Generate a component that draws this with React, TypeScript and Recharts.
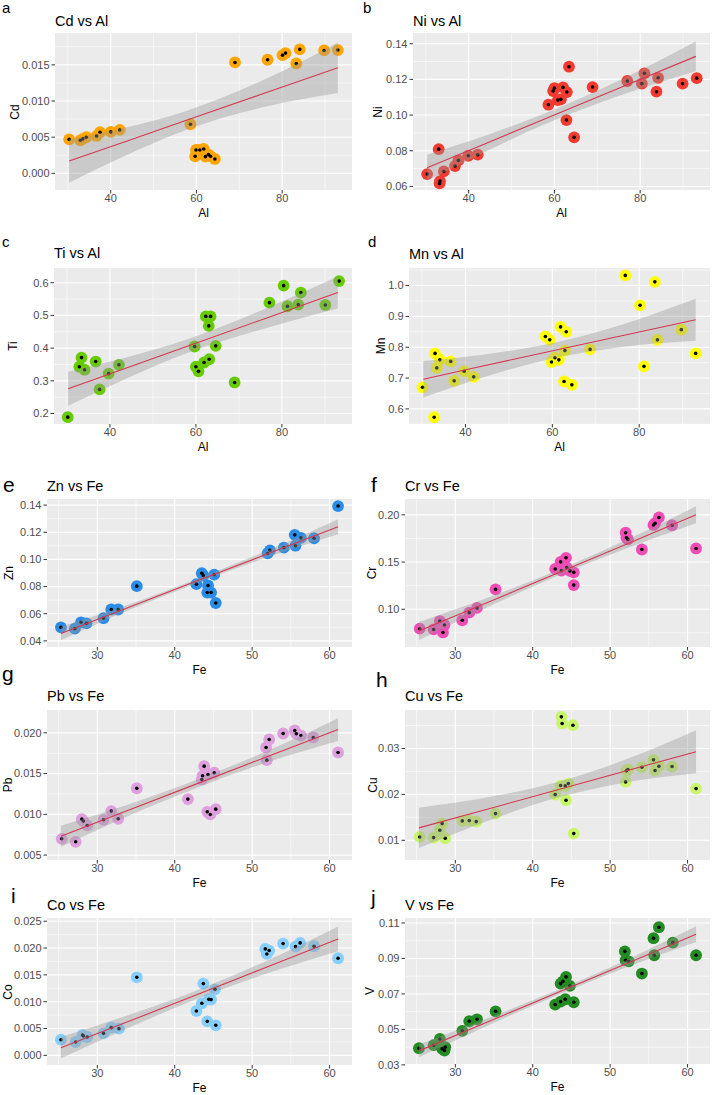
import React from "react";
import { ComposedChart, Scatter, Area, Line, XAxis, YAxis, CartesianGrid } from "recharts";

// --- Shared axis data ---

const AL_TICKS = [40, 60, 80];
const AL_MINOR = [30, 50, 70, 90];
const AL_DOMAIN = [27.0, 96.3];
const AL_BAND_X = [30.3, 44, 58, 76, 93];

const FE_TICKS = [30, 40, 50, 60];
const FE_MINOR = [25, 35, 45, 55];
const FE_DOMAIN = [23.5, 62.9];
const FE_BAND_X = [25.3, 34, 43, 52, 61.1];

// --- a: Cd vs Al ---
const cdAl = [30.3, 32.9, 33.5, 34.3, 36.7, 37.5, 40.0, 42.1, 58.6, 59.7, 59.9, 60.8, 61.7, 62.1, 62.8, 63.3, 64.3, 69.0, 76.6, 80.1, 80.8, 83.3, 84.1, 89.8, 93.0];
const cdVal = [0.0047, 0.00457, 0.00476, 0.00499, 0.00517, 0.00568, 0.00573, 0.006, 0.00679, 0.00235, 0.00323, 0.00323, 0.00337, 0.00231, 0.00259, 0.00235, 0.00199, 0.01533, 0.0157, 0.01634, 0.01662, 0.01519, 0.01713, 0.01699, 0.01704];
const cdFit = [0.0017, 0.0045, 0.0074, 0.0111, 0.0146];
const cdLo = [-0.0013, 0.0026, 0.0061, 0.0092, 0.0111];
const cdHi = [0.0047, 0.0064, 0.0087, 0.013, 0.0181];
const cdTicks = [0, 0.005, 0.01, 0.015];
const cdMinor = [0.0025, 0.0075, 0.0125, 0.0175];

// --- b: Ni vs Al ---
const niAl = [30.3, 33.0, 33.3, 33.2, 34.2, 36.8, 37.6, 39.9, 42.1, 58.6, 59.7, 60.0, 60.8, 61.5, 62.0, 62.9, 63.4, 62.8, 64.6, 68.9, 77.0, 80.4, 81.0, 83.8, 84.2, 89.9, 93.2];
const niVal = [0.0669, 0.0809, 0.063, 0.0617, 0.0684, 0.0714, 0.0746, 0.0772, 0.0778, 0.1058, 0.1135, 0.1151, 0.1084, 0.1088, 0.1155, 0.1129, 0.1271, 0.0972, 0.0875, 0.1157, 0.1191, 0.1176, 0.1234, 0.1131, 0.1209, 0.1176, 0.1207];
const niFit = [0.0705, 0.0841, 0.0981, 0.116, 0.1329];
const niLo = [0.0632, 0.0796, 0.0951, 0.1115, 0.1245];
const niHi = [0.0778, 0.0886, 0.1011, 0.1205, 0.1413];
const niTicks = [0.06, 0.08, 0.1, 0.12, 0.14];
const niMinor = [0.07, 0.09, 0.11, 0.13];

// --- c: Ti vs Al ---
const tiAl = [30.2, 32.9, 33.4, 34.1, 36.7, 37.6, 39.7, 42.1, 59.7, 60.0, 60.6, 61.9, 62.3, 63.4, 63.0, 63.1, 64.6, 69.0, 77.1, 80.4, 81.3, 83.8, 84.4, 90.1, 93.3];
const tiVal = [0.189, 0.343, 0.371, 0.334, 0.359, 0.274, 0.322, 0.349, 0.405, 0.343, 0.329, 0.356, 0.497, 0.497, 0.468, 0.366, 0.407, 0.295, 0.539, 0.591, 0.528, 0.533, 0.57, 0.532, 0.605];
const tiFit = [0.276, 0.34, 0.406, 0.49, 0.57];
const tiLo = [0.224, 0.308, 0.385, 0.46, 0.521];
const tiHi = [0.328, 0.372, 0.427, 0.52, 0.619];
const tiTicks = [0.2, 0.3, 0.4, 0.5, 0.6];
const tiMinor = [0.25, 0.35, 0.45, 0.55];

// --- d: Mn vs Al ---
const mnAl = [30.1, 32.8, 33.0, 33.4, 34.1, 36.6, 37.4, 39.7, 41.9, 58.4, 59.4, 59.8, 60.6, 61.5, 61.9, 62.7, 62.9, 63.2, 64.5, 68.7, 76.8, 80.2, 81.1, 83.6, 84.2, 89.7, 93.0];
const mnVal = [0.67, 0.573, 0.78, 0.733, 0.759, 0.754, 0.691, 0.722, 0.704, 0.835, 0.824, 0.752, 0.766, 0.759, 0.866, 0.689, 0.789, 0.85, 0.678, 0.793, 1.033, 0.936, 0.738, 1.012, 0.824, 0.857, 0.78];
const mnFit = [0.696, 0.739, 0.782, 0.837, 0.889];
const mnLo = [0.637, 0.702, 0.757, 0.801, 0.821];
const mnHi = [0.755, 0.776, 0.807, 0.873, 0.957];
const mnTicks = [0.6, 0.7, 0.8, 0.9, 1.0];
const mnMinor = [0.55, 0.65, 0.75, 0.85, 0.95, 1.05];

// --- e: Zn vs Fe ---
const znFe = [25.3, 27.1, 27.9, 28.6, 30.8, 31.8, 32.7, 35.1, 42.8, 43.5, 43.7, 44.3, 44.2, 44.7, 45.1, 45.3, 52.0, 52.3, 54.1, 55.5, 55.6, 56.3, 58.0, 61.1];
const znVal = [0.05, 0.049, 0.0537, 0.0529, 0.0567, 0.0631, 0.0631, 0.0803, 0.0818, 0.0898, 0.088, 0.0808, 0.0756, 0.0756, 0.0888, 0.0679, 0.1044, 0.1067, 0.1087, 0.1181, 0.1101, 0.1159, 0.1156, 0.1393];
const znFit = [0.0455, 0.0646, 0.0844, 0.1041, 0.1241];
const znLo = [0.0405, 0.0626, 0.0829, 0.1016, 0.1186];
const znHi = [0.0505, 0.0666, 0.0859, 0.1066, 0.1296];
const znTicks = [0.04, 0.06, 0.08, 0.1, 0.12, 0.14];
const znMinor = [0.05, 0.07, 0.09, 0.11, 0.13];

// --- f: Cr vs Fe ---
const crFe = [25.4, 27.2, 28.0, 28.4, 28.6, 30.9, 31.8, 32.8, 35.2, 42.9, 43.6, 43.7, 44.3, 44.4, 44.8, 45.3, 45.3, 52.0, 52.1, 52.3, 54.1, 55.6, 55.8, 56.3, 58.0, 61.1];
const crVal = [0.0794, 0.0786, 0.0875, 0.0754, 0.0833, 0.0883, 0.0964, 0.1014, 0.121, 0.1427, 0.1502, 0.1409, 0.1545, 0.1441, 0.1406, 0.1391, 0.1256, 0.1811, 0.1758, 0.174, 0.1633, 0.1893, 0.1911, 0.1972, 0.189, 0.1644];
const crFit = [0.077, 0.1066, 0.1376, 0.1686, 0.2];
const crLo = [0.0675, 0.1016, 0.1346, 0.1641, 0.191];
const crHi = [0.0865, 0.1116, 0.1406, 0.1731, 0.209];
const crTicks = [0.1, 0.15, 0.2];
const crMinor = [0.075, 0.125, 0.175];

// --- g: Pb vs Fe ---
const pbFe = [25.4, 27.2, 28.0, 28.2, 28.7, 30.8, 31.8, 32.7, 35.1, 41.7, 43.5, 43.6, 43.8, 44.3, 44.2, 44.6, 45.3, 45.1, 51.8, 51.9, 52.2, 54.0, 55.5, 55.7, 56.3, 57.9, 61.1];
const pbVal = [0.007, 0.00663, 0.00941, 0.00917, 0.00864, 0.00933, 0.0104, 0.00946, 0.0132, 0.01187, 0.01428, 0.01473, 0.01591, 0.01489, 0.01031, 0.00999, 0.01064, 0.0151, 0.0182, 0.01665, 0.01918, 0.01992, 0.02029, 0.01988, 0.01967, 0.01943, 0.01759];
const pbFit = [0.0073, 0.0105, 0.0138, 0.0171, 0.0204];
const pbLo = [0.006, 0.0098, 0.0133, 0.0164, 0.019];
const pbHi = [0.0086, 0.0112, 0.0143, 0.0178, 0.0218];
const pbTicks = [0.005, 0.01, 0.015, 0.02];
const pbMinor = [0.0075, 0.0125, 0.0175];

// --- h: Cu vs Fe ---
const cuFe = [25.4, 27.2, 28.0, 28.3, 28.7, 30.9, 31.8, 32.7, 35.2, 42.9, 43.6, 43.7, 43.8, 44.3, 44.2, 44.6, 45.2, 45.3, 52.0, 52.1, 52.3, 54.1, 55.6, 55.8, 56.3, 58.0, 61.1];
const cuVal = [0.01073, 0.01058, 0.01218, 0.01364, 0.01044, 0.01422, 0.01429, 0.01407, 0.01582, 0.01996, 0.02193, 0.03691, 0.03545, 0.01873, 0.02185, 0.02236, 0.03509, 0.01145, 0.02273, 0.02513, 0.02542, 0.02593, 0.02753, 0.0252, 0.02615, 0.02607, 0.02127];
const cuFit = [0.0127, 0.0167, 0.0209, 0.0251, 0.0293];
const cuLo = [0.0083, 0.0141, 0.0192, 0.0226, 0.0246];
const cuHi = [0.0171, 0.0193, 0.0226, 0.0276, 0.034];
const cuTicks = [0.01, 0.02, 0.03];
const cuMinor = [0.015, 0.025, 0.035];

// --- i: Co vs Fe ---
const coFe = [25.3, 27.2, 28.1, 28.2, 28.7, 30.8, 31.8, 32.8, 35.1, 42.8, 43.5, 43.7, 44.2, 44.4, 44.7, 45.2, 45.3, 51.7, 51.9, 52.2, 54.0, 55.6, 56.2, 58.0, 61.1];
const coVal = [0.00292, 0.00249, 0.00379, 0.0036, 0.00342, 0.0041, 0.00516, 0.00498, 0.01455, 0.00827, 0.0097, 0.01337, 0.00634, 0.01045, 0.01039, 0.01231, 0.0056, 0.01984, 0.0189, 0.01953, 0.02083, 0.02027, 0.02096, 0.02034, 0.0181];
const coFit = [0.0014, 0.0063, 0.0114, 0.0165, 0.0217];
const coLo = [-0.0006, 0.0051, 0.0106, 0.0153, 0.0194];
const coHi = [0.0034, 0.0075, 0.0122, 0.0177, 0.024];
const coTicks = [0, 0.005, 0.01, 0.015, 0.02, 0.025];
const coMinor = [0.0025, 0.0075, 0.0125, 0.0175, 0.0225];

// --- j: V vs Fe ---
const vFe = [25.3, 27.2, 28.0, 28.3, 28.6, 28.7, 30.9, 31.8, 32.8, 35.2, 42.9, 43.6, 43.6, 43.9, 44.2, 44.3, 44.8, 45.3, 51.9, 52.0, 52.4, 54.1, 55.6, 55.7, 56.3, 58.1, 61.1];
const vVal = [0.0394, 0.0411, 0.0446, 0.039, 0.0381, 0.04, 0.0492, 0.0546, 0.0557, 0.0602, 0.064, 0.0657, 0.0758, 0.0771, 0.067, 0.0796, 0.0745, 0.0653, 0.094, 0.089, 0.0884, 0.0815, 0.1014, 0.0918, 0.1076, 0.0989, 0.0918];
const vFit = [0.0379, 0.0539, 0.0704, 0.0869, 0.1037];
const vLo = [0.0343, 0.0518, 0.069, 0.0849, 0.0993];
const vHi = [0.0415, 0.056, 0.0718, 0.0889, 0.1081];
const vTicks = [0.03, 0.05, 0.07, 0.09, 0.11];
const vMinor = [0.04, 0.06, 0.08, 0.1];

// --- Style ---

const FONT = '"Liberation Sans", Arial, Helvetica, sans-serif';
const PANEL_BG = "#EBEBEB";
const TICK_TEXT = "#4D4D4D";
const FIT_COLOR = "#D4384F";

type PanelDef = {
  letter: string;
  letterSize: number;
  letterPos: [number, number];
  title: string;
  titleBase: number;
  xLabel: string;
  yLabel: string;
  yLabelX: number;
  rect: [number, number, number, number]; // plot L, T, R, B on the page
  col: number;
  xs: number[];
  ys: number[];
  fit: number[];
  lo: number[];
  hi: number[];
  bandX: number[];
  xDomain: number[];
  xTicks: number[];
  xMinor: number[];
  yDomain: number[];
  yTicks: number[];
  yMinor: number[];
  digits: number;
  color: string;
};

const PANELS: PanelDef[] = [
  { letter: "a", letterSize: 15, letterPos: [2, 12.7], title: "Cd vs Al", titleBase: 26.7, xLabel: "Al", yLabel: "Cd", yLabelX: 15,
    rect: [55, 33, 352, 190], col: 0, xs: cdAl, ys: cdVal, fit: cdFit, lo: cdLo, hi: cdHi, bandX: AL_BAND_X,
    xDomain: AL_DOMAIN, xTicks: AL_TICKS, xMinor: AL_MINOR, yDomain: [-0.0023, 0.0194], yTicks: cdTicks, yMinor: cdMinor, digits: 3, color: "#FFA500" },
  { letter: "b", letterSize: 15, letterPos: [363, 12.7], title: "Ni vs Al", titleBase: 26.7, xLabel: "Al", yLabel: "Ni", yLabelX: 377.5,
    rect: [413, 33, 710, 190], col: 356, xs: niAl, ys: niVal, fit: niFit, lo: niLo, hi: niHi, bandX: AL_BAND_X,
    xDomain: AL_DOMAIN, xTicks: AL_TICKS, xMinor: AL_MINOR, yDomain: [0.058, 0.146], yTicks: niTicks, yMinor: niMinor, digits: 2, color: "#F23B30" },
  { letter: "c", letterSize: 15, letterPos: [2, 246.7], title: "Ti vs Al", titleBase: 258.3, xLabel: "Al", yLabel: "Ti", yLabelX: 13,
    rect: [54, 268, 352, 424], col: 0, xs: tiAl, ys: tiVal, fit: tiFit, lo: tiLo, hi: tiHi, bandX: AL_BAND_X,
    xDomain: AL_DOMAIN, xTicks: AL_TICKS, xMinor: AL_MINOR, yDomain: [0.168, 0.645], yTicks: tiTicks, yMinor: tiMinor, digits: 1, color: "#66CC00" },
  { letter: "d", letterSize: 15, letterPos: [368, 246.7], title: "Mn vs Al", titleBase: 259.5, xLabel: "Al", yLabel: "Mn", yLabelX: 381,
    rect: [409, 268, 710, 424], col: 356, xs: mnAl, ys: mnVal, fit: mnFit, lo: mnLo, hi: mnHi, bandX: AL_BAND_X,
    xDomain: AL_DOMAIN, xTicks: AL_TICKS, xMinor: AL_MINOR, yDomain: [0.551, 1.057], yTicks: mnTicks, yMinor: mnMinor, digits: 1, color: "#FFFF00" },
  { letter: "e", letterSize: 21, letterPos: [3, 491.7], title: "Zn vs Fe", titleBase: 491.7, xLabel: "Fe", yLabel: "Zn", yLabelX: 9,
    rect: [47, 499, 352, 647], col: 0, xs: znFe, ys: znVal, fit: znFit, lo: znLo, hi: znHi, bandX: FE_BAND_X,
    xDomain: FE_DOMAIN, xTicks: FE_TICKS, xMinor: FE_MINOR, yDomain: [0.0355, 0.1445], yTicks: znTicks, yMinor: znMinor, digits: 2, color: "#2B8CE6" },
  { letter: "f", letterSize: 21, letterPos: [371, 491.7], title: "Cr vs Fe", titleBase: 491, xLabel: "Fe", yLabel: "Cr", yLabelX: 371.5,
    rect: [405, 499, 710, 647], col: 356, xs: crFe, ys: crVal, fit: crFit, lo: crLo, hi: crHi, bandX: FE_BAND_X,
    xDomain: FE_DOMAIN, xTicks: FE_TICKS, xMinor: FE_MINOR, yDomain: [0.06, 0.2168], yTicks: crTicks, yMinor: crMinor, digits: 2, color: "#EE4DB5" },
  { letter: "g", letterSize: 21, letterPos: [2, 681], title: "Pb vs Fe", titleBase: 701.7, xLabel: "Fe", yLabel: "Pb", yLabelX: 7.5,
    rect: [47, 710, 352, 860], col: 0, xs: pbFe, ys: pbVal, fit: pbFit, lo: pbLo, hi: pbHi, bandX: FE_BAND_X,
    xDomain: FE_DOMAIN, xTicks: FE_TICKS, xMinor: FE_MINOR, yDomain: [0.0044, 0.0228], yTicks: pbTicks, yMinor: pbMinor, digits: 3, color: "#DDA0DD" },
  { letter: "h", letterSize: 21, letterPos: [376, 686.7], title: "Cu vs Fe", titleBase: 701.7, xLabel: "Fe", yLabel: "Cu", yLabelX: 372.5,
    rect: [405, 710, 710, 860], col: 356, xs: cuFe, ys: cuVal, fit: cuFit, lo: cuLo, hi: cuHi, bandX: FE_BAND_X,
    xDomain: FE_DOMAIN, xTicks: FE_TICKS, xMinor: FE_MINOR, yDomain: [0.0057, 0.0384], yTicks: cuTicks, yMinor: cuMinor, digits: 2, color: "#C9F56B" },
  { letter: "i", letterSize: 21, letterPos: [11, 903], title: "Co vs Fe", titleBase: 910.7, xLabel: "Fe", yLabel: "Co", yLabelX: 7.5,
    rect: [47, 918, 352, 1065], col: 0, xs: coFe, ys: coVal, fit: coFit, lo: coLo, hi: coHi, bandX: FE_BAND_X,
    xDomain: FE_DOMAIN, xTicks: FE_TICKS, xMinor: FE_MINOR, yDomain: [-0.0018, 0.0256], yTicks: coTicks, yMinor: coMinor, digits: 3, color: "#87CEFA" },
  { letter: "j", letterSize: 21, letterPos: [371, 905], title: "V vs Fe", titleBase: 910.7, xLabel: "Fe", yLabel: "V", yLabelX: 369.5,
    rect: [405, 918, 710, 1064], col: 356, xs: vFe, ys: vVal, fit: vFit, lo: vLo, hi: vHi, bandX: FE_BAND_X,
    xDomain: FE_DOMAIN, xTicks: FE_TICKS, xMinor: FE_MINOR, yDomain: [0.0305, 0.1128], yTicks: vTicks, yMinor: vMinor, digits: 2, color: "#228B22" },
];

const COL_W = 356;

// --- Helpers ---

// place a line of text by its baseline
function TextAt({ x, base, size, children, color = "#000" }: any) {
  return (
    <div
      style={{
        position: "absolute",
        left: x,
        top: base - size * 0.85,
        fontSize: size,
        lineHeight: `${size}px`,
        color,
        whiteSpace: "nowrap",
      }}
    >
      {children}
    </div>
  );
}

function Panel({ p }: { p: PanelDef }) {
  const [L, T, R, B] = p.rect;
  const points = p.xs.map((x, i) => ({ x, y: p.ys[i] }));
  const band = p.bandX.map((x, i) => ({ x, band: [p.lo[i], p.hi[i]], fit: p.fit[i] }));
  const tickStyle = { fill: TICK_TEXT, fontSize: 11, fontFamily: FONT };
  const w = COL_W + (p.col ? 1 : 0);

  return (
    <>
      <TextAt x={p.letterPos[0]} base={p.letterPos[1]} size={p.letterSize}>{p.letter}</TextAt>
      <TextAt x={L} base={p.titleBase} size={14.5}>{p.title}</TextAt>
      <div style={{ position: "absolute", left: p.col, top: T - 4 }}>
        <ComposedChart
          width={w}
          height={B - T + 24}
          data={band}
          margin={{ top: 4, right: p.col + w - R, left: 0, bottom: 0 }}
        >
          <CartesianGrid
            fill={PANEL_BG}
            fillOpacity={1}
            stroke="#FFFFFF"
            strokeWidth={0.55}
            horizontalValues={p.yMinor}
            verticalValues={p.xMinor}
          />
          <CartesianGrid
            stroke="#FFFFFF"
            strokeWidth={1.1}
            horizontalValues={p.yTicks}
            verticalValues={p.xTicks}
          />
          <XAxis
            type="number"
            dataKey="x"
            domain={p.xDomain}
            ticks={p.xTicks}
            allowDataOverflow
            interval={0}
            height={20}
            axisLine={false}
            tickLine={{ stroke: "#333333" }}
            tickSize={3.5}
            tickMargin={1}
            tick={tickStyle}
          />
          <YAxis
            type="number"
            dataKey="y"
            domain={p.yDomain}
            ticks={p.yTicks}
            allowDataOverflow
            interval={0}
            width={L - p.col}
            axisLine={false}
            tickLine={{ stroke: "#333333" }}
            tickSize={3.5}
            tickMargin={2}
            tick={tickStyle}
            tickFormatter={(v: number) => v.toFixed(p.digits)}
          />
          <Scatter
            data={points}
            isAnimationActive={false}
            shape={(s: any) => <circle cx={s.cx} cy={s.cy} r={5.9} fill={p.color} />}
          />
          <Scatter
            data={points}
            isAnimationActive={false}
            shape={(s: any) => <circle cx={s.cx} cy={s.cy} r={1.8} fill="#000000" />}
          />
          <Area
            type="monotone"
            dataKey="band"
            fill="#999999"
            fillOpacity={0.4}
            stroke="none"
            isAnimationActive={false}
            activeDot={false}
            zIndex={700}
          />
          <Line
            type="linear"
            dataKey="fit"
            stroke={FIT_COLOR}
            strokeWidth={1.1}
            dot={false}
            activeDot={false}
            isAnimationActive={false}
            zIndex={800}
          />
        </ComposedChart>
      </div>
      <div
        style={{
          position: "absolute",
          left: (L + R) / 2,
          top: B + 23,
          transform: "translate(-50%, -50%)",
          fontSize: 12,
          lineHeight: "12px",
          whiteSpace: "nowrap",
        }}
      >
        {p.xLabel}
      </div>
      <div
        style={{
          position: "absolute",
          left: p.yLabelX,
          top: (T + B) / 2,
          transform: "translate(-50%, -50%) rotate(-90deg)",
          fontSize: 12,
          lineHeight: "12px",
          whiteSpace: "nowrap",
        }}
      >
        {p.yLabel}
      </div>
    </>
  );
}

export default function App() {
  return (
    <div
      style={{
        position: "absolute",
        left: 0,
        top: 0,
        width: 713,
        height: 1095,
        background: "#FFFFFF",
        fontFamily: FONT,
        overflow: "hidden",
      }}
    >
      {PANELS.map((p) => (
        <Panel key={p.letter} p={p} />
      ))}
    </div>
  );
}
